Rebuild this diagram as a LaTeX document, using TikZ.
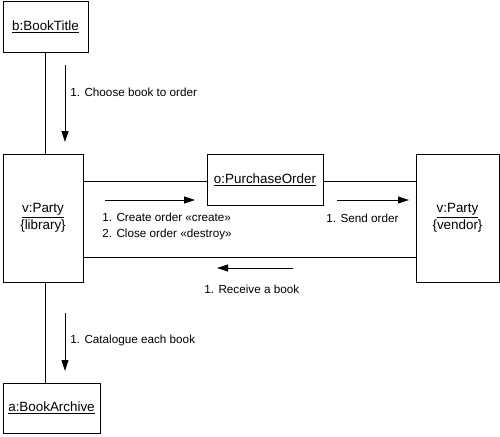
\documentclass[tikz,border=0pt]{standalone}
\usepackage{fontspec}
\setmainfont{Liberation Sans}
\usetikzlibrary{arrows.meta}

\begin{document}
\begin{tikzpicture}[x=1pt, y=-1pt, line width=0.9pt,
  object/.style={draw, inner sep=0pt, font=\fontsize{13.4}{17}\selectfont, align=center},
  msg/.style={-{Triangle[length=11pt, width=7pt]}},
  msglabel/.style={font=\fontsize{11.7}{16}\selectfont, anchor=west, inner sep=0pt, align=left}]

  \useasboundingbox (0,0) rectangle (500,436);

  % -- Objects --
  \node[object, minimum width=85pt, minimum height=51pt] (title) at (45.5, 27) {\underline{b:BookTitle}};
  \node[object, minimum width=80pt, minimum height=128pt] (library) at (43, 218) {\underline{v:Party}\\\{library\}};
  \node[object, minimum width=116pt, minimum height=51pt] (order) at (265, 180) {\underline{o:PurchaseOrder}};
  \node[object, minimum width=83pt, minimum height=128pt] (vendor) at (457.5, 218) {\underline{v:Party}\\\{vendor\}};
  \node[object, minimum width=97pt, minimum height=50pt] (archive) at (51.5, 408) {\underline{a:BookArchive}};

  % -- Links --
  \draw (title.south -| 45,0) -- (library.north -| 45,0);
  \draw (library.south -| 45,0) -- (archive.north -| 45,0);
  \draw (library.east |- 0,181) -- (order.west |- 0,181);
  \draw (order.east |- 0,181) -- (vendor.west |- 0,181);
  \draw (library.east |- 0,257) -- (vendor.west |- 0,257);

  % -- Message arrows --
  \coordinate (chooseS) at (65, 65);
  \coordinate (chooseE) at (65, 142);
  \draw[msg] (chooseS) -- (chooseE);
  \node[msglabel] (chooseL) at (70, 92) {1. Choose book to order};

  \coordinate (createS) at (105, 200);
  \coordinate (createE) at (195, 200);
  \draw[msg] (createS) -- (createE);
  \node[msglabel] (createL) at (102, 226) {1. Create order «create»\\2. Close order «destroy»};

  \coordinate (sendS) at (337, 200);
  \coordinate (sendE) at (409, 200);
  \draw[msg] (sendS) -- (sendE);
  \node[msglabel] (sendL) at (326, 218) {1. Send order};

  \coordinate (receiveS) at (293, 268);
  \coordinate (receiveE) at (217, 268);
  \draw[msg] (receiveS) -- (receiveE);
  \node[msglabel] (receiveL) at (204, 289) {1. Receive a book};

  \coordinate (catalogS) at (65, 313);
  \coordinate (catalogE) at (65, 371);
  \draw[msg] (catalogS) -- (catalogE);
  \node[msglabel] (catalogL) at (70, 340) {1. Catalogue each book};

\end{tikzpicture}
\end{document}
